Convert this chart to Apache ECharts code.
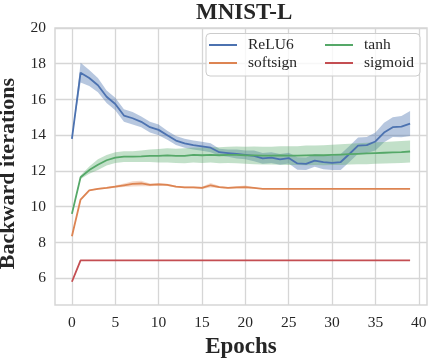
<!DOCTYPE html>
<html>
<head>
<meta charset="utf-8">
<script src="https://cdn.jsdelivr.net/npm/echarts@6/dist/echarts.min.js"></script>
<style>
  html, body { margin: 0; padding: 0; background: #fff; }
  #chart { width: 435px; height: 359px; }
</style>
</head>
<body>
<div id="chart"></div>
<script>
// epochs on the x axis
const epochs = [0, 1, 2, 3, 4, 5, 6, 7, 8, 9, 10, 11, 12, 13, 14, 15, 16, 17, 18, 19,
  20, 21, 22, 23, 24, 25, 26, 27, 28, 29, 30, 31, 32, 33, 34, 35, 36, 37, 38, 39]
const xTicks = [0, 5, 10, 15, 20, 25, 30, 35, 40]
const yTicks = [6, 8, 10, 12, 14, 16, 18, 20]

// ReLU6 mean and band half width
const relu6Mean = [13.8, 17.5, 17.2, 16.8, 16.15, 15.75, 15.1, 14.95, 14.75, 14.45,
  14.3, 14.0, 13.7, 13.55, 13.45, 13.38, 13.3, 13.05, 13.0, 12.95,
  12.9, 12.85, 12.7, 12.75, 12.65, 12.72, 12.42, 12.4, 12.58, 12.5,
  12.45, 12.5, 12.95, 13.42, 13.45, 13.65, 14.15, 14.45, 14.48, 14.65]
const relu6Err = [0.0, 0.55, 0.45, 0.4, 0.35, 0.35, 0.35, 0.35, 0.3, 0.3,
  0.3, 0.25, 0.25, 0.25, 0.25, 0.25, 0.25, 0.2, 0.2, 0.25,
  0.25, 0.3, 0.3, 0.3, 0.3, 0.3, 0.35, 0.35, 0.35, 0.4,
  0.4, 0.45, 0.45, 0.45, 0.45, 0.5, 0.55, 0.55, 0.6, 0.7]

// softsign
const softsignMean = [8.35, 10.4, 10.92, 11.0, 11.05, 11.12, 11.2, 11.28, 11.3, 11.22,
  11.25, 11.22, 11.12, 11.08, 11.08, 11.05, 11.2, 11.1, 11.05, 11.08,
  11.1, 11.05, 11.0, 11.0, 11.0, 11.0, 11.0, 11.0, 11.0, 11.0,
  11.0, 11.0, 11.0, 11.0, 11.0, 11.0, 11.0, 11.0, 11.0, 11.0]
const softsignErr = [0.0, 0.03, 0.03, 0.04, 0.05, 0.06, 0.1, 0.15, 0.15, 0.08,
  0.08, 0.06, 0.05, 0.05, 0.05, 0.06, 0.12, 0.06, 0.05, 0.06,
  0.08, 0.04, 0.0, 0.0, 0.0, 0.0, 0.0, 0.0, 0.0, 0.0,
  0.0, 0.0, 0.0, 0.0, 0.0, 0.0, 0.0, 0.0, 0.0, 0.0]

// tanh
const tanhMean = [9.6, 11.65, 12.05, 12.35, 12.6, 12.75, 12.8, 12.8, 12.82, 12.85,
  12.85, 12.87, 12.85, 12.85, 12.9, 12.88, 12.9, 12.88, 12.9, 12.9,
  12.88, 12.87, 12.86, 12.86, 12.87, 12.86, 12.86, 12.87, 12.88, 12.88,
  12.9, 12.92, 12.94, 12.96, 12.98, 13.0, 13.02, 13.04, 13.06, 13.09]
const tanhErr = [0.0, 0.1, 0.2, 0.3, 0.3, 0.3, 0.3, 0.3, 0.32, 0.35,
  0.38, 0.4, 0.4, 0.42, 0.42, 0.43, 0.43, 0.45, 0.45, 0.47,
  0.48, 0.5, 0.5, 0.5, 0.52, 0.52, 0.53, 0.55, 0.55, 0.56,
  0.57, 0.58, 0.58, 0.59, 0.6, 0.6, 0.6, 0.61, 0.62, 0.62]

// sigmoid
const sigmoidMean = [5.8, 7.0, 7.0, 7.0, 7.0, 7.0, 7.0, 7.0, 7.0, 7.0,
  7.0, 7.0, 7.0, 7.0, 7.0, 7.0, 7.0, 7.0, 7.0, 7.0,
  7.0, 7.0, 7.0, 7.0, 7.0, 7.0, 7.0, 7.0, 7.0, 7.0,
  7.0, 7.0, 7.0, 7.0, 7.0, 7.0, 7.0, 7.0, 7.0, 7.0]

const serif = "'Liberation Serif', 'DejaVu Serif', serif"
const textColor = '#262626'
const gridColor = '#d6d6d6'

const chart = echarts.init(document.getElementById('chart'))

// shaded band between mean-err and mean+err
function band(mean, err, fill) {
  return {
    type: 'custom',
    silent: true,
    data: [[epochs[0], mean[0]]],
    renderItem: function (params, api) {
      const up = []
      const lo = []
      for (let i = 0; i < epochs.length; i++) {
        up.push(api.coord([epochs[i], mean[i] + err[i]]))
        lo.push(api.coord([epochs[i], mean[i] - err[i]]))
      }
      return {
        type: 'polygon',
        shape: { points: up.concat(lo.reverse()) },
        style: { fill: fill, stroke: null }
      }
    }
  }
}

function line(name, mean, color) {
  return {
    name: name,
    type: 'line',
    data: epochs.map((e, i) => [e, mean[i]]),
    showSymbol: false,
    color: color,
    lineStyle: { color: color, width: 1.8 }
  }
}

const legendText = { fontFamily: serif, fontSize: 15.5, color: textColor, padding: [0, 0, 0, 6], lineHeight: 18 }

chart.setOption({
  animation: false,
  backgroundColor: '#fff',
  title: {
    text: 'MNIST-L',
    left: 196,
    top: 2,
    padding: 0,
    textStyle: { fontFamily: serif, fontSize: 23, fontWeight: 'bold', color: textColor }
  },
  grid: {
    left: 55, top: 28, right: 8, bottom: 54,
    outerBoundsMode: 'none',
    containLabel: false,
    show: true, borderColor: gridColor, borderWidth: 1.5, backgroundColor: '#fff'
  },
  legend: [
    {
      data: ['ReLU6', 'softsign'],
      orient: 'vertical', left: 209, top: 36, padding: 0,
      icon: 'rect', itemWidth: 28, itemHeight: 2, itemGap: 0,
      textStyle: legendText
    },
    {
      data: ['tanh', 'sigmoid'],
      orient: 'vertical', left: 325, top: 36, padding: 0,
      icon: 'rect', itemWidth: 28, itemHeight: 2, itemGap: 0,
      textStyle: legendText
    }
  ],
  graphic: [{
    type: 'rect',
    z: 3,
    shape: { x: 206, y: 33.5, width: 214, height: 42.5, r: 4 },
    style: { fill: 'rgba(255,255,255,0.8)', stroke: '#cccccc', lineWidth: 1 }
  }],
  xAxis: {
    type: 'value',
    min: -1.95,
    max: 40.95,
    name: 'Epochs',
    nameLocation: 'middle',
    nameGap: 25,
    nameTextStyle: { fontFamily: serif, fontSize: 23, fontWeight: 'bold', color: textColor },
    axisLine: { show: false },
    axisTick: { show: false, customValues: xTicks },
    axisLabel: { customValues: xTicks, margin: 10, fontFamily: serif, fontSize: 15.5, color: textColor },
    splitLine: { show: true, lineStyle: { color: gridColor, width: 1.3 } }
  },
  yAxis: {
    type: 'value',
    min: 4.5,
    max: 20,
    name: 'Backward iterations',
    nameLocation: 'middle',
    nameGap: 27,
    nameTextStyle: { fontFamily: serif, fontSize: 22, fontWeight: 'bold', color: textColor, padding: [0, 0, 0, -14] },
    axisLine: { show: false },
    axisTick: { show: false, customValues: yTicks },
    axisLabel: { customValues: yTicks, margin: 9, fontFamily: serif, fontSize: 15.5, color: textColor },
    splitLine: { show: true, lineStyle: { color: gridColor, width: 1.3 } }
  },
  series: [
    band(relu6Mean, relu6Err, 'rgba(76,114,176,0.4)'),
    line('ReLU6', relu6Mean, '#4c72b0'),
    band(softsignMean, softsignErr, 'rgba(221,132,82,0.3)'),
    line('softsign', softsignMean, '#dd8452'),
    band(tanhMean, tanhErr, 'rgba(85,168,104,0.36)'),
    line('tanh', tanhMean, '#55a868'),
    line('sigmoid', sigmoidMean, '#c44e52')
  ]
})
</script>
</body>
</html>
